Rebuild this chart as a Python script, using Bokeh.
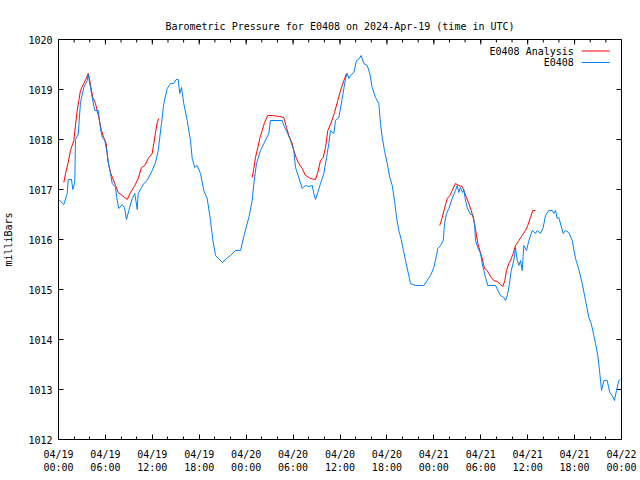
from bokeh.plotting import figure
from bokeh.models import Range1d, FixedTicker, Label
from bokeh.embed import file_html
from bokeh.resources import INLINE

# ---- data (hours since 2024-04-19 00:00 UTC, pressure in mb) ----
obs_hours = [
    0.0, 0.68, 1.11, 1.24, 1.66, 1.83, 2.08, 2.17, 2.52, 2.81,
    3.24, 3.67, 3.80, 4.09, 4.31, 4.64, 5.08, 5.37, 5.59, 5.92,
    6.23, 6.43, 6.65, 6.87, 7.29, 7.51, 7.71, 8.15, 8.44, 8.70,
    8.99, 9.43, 9.76, 10.07, 10.19, 10.62, 10.91, 11.34, 11.98, 12.41,
    12.75, 13.17, 13.47, 13.90, 14.32, 14.75, 15.05, 15.31, 15.51, 15.73,
    16.02, 16.46, 16.88, 17.10, 17.43, 17.74, 18.16, 18.58, 19.02, 19.44,
    19.73, 20.08, 20.46, 20.97, 21.49, 22.0, 22.64, 23.28, 23.79, 24.34,
    24.77, 24.98, 25.32, 25.83, 26.26, 26.90, 27.11, 28.61, 28.81, 29.25,
    29.67, 30.09, 30.31, 30.73, 31.17, 31.59, 32.01, 32.45, 32.65, 32.87,
    33.16, 33.51, 33.93, 34.28, 34.57, 34.79, 35.21, 35.43, 35.85, 36.28,
    36.71, 36.92, 37.13, 37.34, 37.77, 38.11, 38.37, 38.71, 39.05, 39.48,
    39.81, 40.12, 40.54, 40.96, 41.18, 41.40, 41.69, 42.04, 42.37, 42.68,
    42.97, 43.23, 43.52, 43.83, 44.38, 45.02, 45.66, 46.30, 46.72, 47.15,
    47.58, 48.0, 48.34, 48.51, 48.86, 49.20, 49.37, 49.62, 49.92, 50.35,
    50.77, 50.99, 51.19, 51.41, 51.67, 51.83, 52.05, 52.27, 52.60, 53.04,
    53.24, 53.33, 53.63, 53.97, 54.19, 54.39, 54.61, 54.90, 55.89, 56.19,
    56.53, 56.95, 57.17, 57.39, 57.59, 57.90, 58.23, 58.45, 58.67, 58.87,
    59.09, 59.30, 59.51, 59.86, 60.15, 60.59, 61.01, 61.22, 61.64, 61.99,
    62.28, 62.71, 63.14, 63.34, 63.56, 63.78, 63.98, 64.55, 64.84, 65.26,
    65.70, 66.12, 66.54, 66.98, 67.40, 67.82, 68.13, 68.46, 68.68, 68.97,
    69.23, 69.45, 69.74, 70.17, 70.50, 70.81, 71.10, 71.36, 71.66, 71.87,
]
obs_mb = [
    1016.8, 1016.7, 1016.92, 1017.2, 1017.2, 1017.0, 1017.14, 1018.0, 1018.1, 1018.74,
    1019.04, 1019.18, 1019.3, 1019.04, 1018.84, 1018.58, 1018.58, 1018.22, 1018.04, 1017.98,
    1017.72, 1017.48, 1017.32, 1017.12, 1017.04, 1016.78, 1016.62, 1016.7, 1016.64, 1016.4,
    1016.58, 1016.82, 1016.92, 1016.6, 1016.92, 1017.04, 1017.12, 1017.18, 1017.38, 1017.54,
    1017.78, 1018.32, 1018.72, 1019.02, 1019.12, 1019.12, 1019.2, 1019.2, 1018.92, 1019.04,
    1018.72, 1018.38, 1017.98, 1017.62, 1017.44, 1017.48, 1017.32, 1016.98, 1016.82, 1016.38,
    1016.0, 1015.68, 1015.62, 1015.54, 1015.62, 1015.68, 1015.78, 1015.78, 1016.12, 1016.44,
    1016.78, 1017.12, 1017.52, 1017.78, 1017.92, 1018.12, 1018.38, 1018.38, 1018.28, 1018.14,
    1017.98, 1017.78, 1017.44, 1017.24, 1017.02, 1017.08, 1017.06, 1017.08, 1016.92, 1016.8,
    1016.94, 1017.12, 1017.32, 1017.64, 1017.92, 1018.18, 1018.12, 1018.38, 1018.44, 1018.82,
    1019.22, 1019.32, 1019.22, 1019.28, 1019.34, 1019.58, 1019.6, 1019.68, 1019.52, 1019.48,
    1019.32, 1019.04, 1018.84, 1018.72, 1018.32, 1018.04, 1017.78, 1017.52, 1017.24, 1017.08,
    1016.78, 1016.44, 1016.18, 1016.0, 1015.58, 1015.12, 1015.08, 1015.08, 1015.08, 1015.18,
    1015.28, 1015.44, 1015.68, 1015.82, 1015.88, 1015.98, 1016.32, 1016.52, 1016.62, 1016.82,
    1016.98, 1017.08, 1016.94, 1017.04, 1016.94, 1017.0, 1016.78, 1016.64, 1016.52, 1016.48,
    1016.24, 1015.98, 1015.84, 1015.72, 1015.52, 1015.38, 1015.24, 1015.08, 1015.08, 1014.98,
    1014.88, 1014.84, 1014.78, 1014.88, 1015.04, 1015.38, 1015.58, 1015.84, 1015.58, 1015.48,
    1015.58, 1015.38, 1015.88, 1015.78, 1015.98, 1016.18, 1016.12, 1016.18, 1016.12, 1016.24,
    1016.48, 1016.58, 1016.58, 1016.52, 1016.58, 1016.42, 1016.44, 1016.12, 1016.18, 1016.14,
    1015.98, 1015.62, 1015.4, 1015.12, 1014.78, 1014.44, 1014.32, 1014.08, 1013.92, 1013.68,
    1013.32, 1012.98, 1013.18, 1013.18, 1012.94, 1012.88, 1012.78, 1012.98, 1013.18, 1013.2,
]

analysis1_hours = [0.68, 0.90, 1.24, 1.53, 1.75, 1.96, 2.17, 2.39, 2.60, 2.81,
                   3.24, 3.54, 3.80, 3.96, 4.22, 4.39, 4.73, 5.15, 5.50, 5.79,
                   6.10, 6.31, 6.65, 6.94, 7.29, 7.64, 8.15, 8.79, 9.21, 9.76,
                   10.19, 10.62, 11.04, 11.47, 11.98, 12.19, 12.41, 12.62, 12.83]
analysis1_mb = [1017.14, 1017.32, 1017.54, 1017.78, 1017.88, 1017.98, 1018.28, 1018.58, 1018.78, 1018.98,
                1019.12, 1019.22, 1019.32, 1019.22, 1018.98, 1018.84, 1018.72, 1018.44, 1018.18, 1018.04,
                1017.92, 1017.58, 1017.34, 1017.22, 1017.08, 1016.94, 1016.88, 1016.8, 1016.94, 1017.08,
                1017.22, 1017.44, 1017.48, 1017.62, 1017.72, 1017.92, 1018.14, 1018.34, 1018.42]

analysis2_hours = [24.77, 24.98, 25.19, 25.49, 25.74, 26.05, 26.35, 26.77, 27.33, 28.30,
                   28.81, 29.16, 29.45, 29.89, 30.09, 30.44, 30.73, 31.17, 31.59, 32.23,
                   32.87, 33.16, 33.51, 33.85, 34.15, 34.44, 34.88, 35.30, 35.72, 36.07,
                   36.49, 36.83]
analysis2_mb = [1017.24, 1017.42, 1017.64, 1017.84, 1018.02, 1018.18, 1018.34, 1018.48, 1018.48, 1018.46,
                1018.44, 1018.24, 1018.08, 1017.92, 1017.78, 1017.62, 1017.52, 1017.42, 1017.28, 1017.22,
                1017.2, 1017.34, 1017.58, 1017.64, 1017.84, 1018.18, 1018.34, 1018.54, 1018.78, 1018.98,
                1019.18, 1019.32]

analysis3_hours = [48.76, 49.07, 49.37, 49.71, 50.04, 50.35, 50.77, 51.19, 51.63, 51.83,
                   52.18, 52.47, 52.78, 53.20, 53.42, 53.63, 53.88, 54.19, 54.48, 54.83,
                   55.03, 55.34, 55.67, 56.11, 56.53, 56.82, 57.08, 57.29, 57.59, 57.80,
                   58.15, 58.45, 58.87, 59.30, 59.72, 60.01, 60.36, 60.65, 61.0]
analysis3_mb = [1016.28, 1016.44, 1016.62, 1016.82, 1016.88, 1016.98, 1017.12, 1017.08, 1017.06, 1016.98,
                1016.84, 1016.72, 1016.58, 1016.34, 1016.12, 1015.92, 1015.78, 1015.62, 1015.42, 1015.38,
                1015.32, 1015.24, 1015.18, 1015.16, 1015.1, 1015.06, 1015.18, 1015.38, 1015.52, 1015.58,
                1015.72, 1015.88, 1015.98, 1016.08, 1016.18, 1016.28, 1016.44, 1016.58, 1016.58]

x_tick_hours = [0, 6, 12, 18, 24, 30, 36, 42, 48, 54, 60, 66, 72]
x_tick_labels = ["04/19\n00:00", "04/19\n06:00", "04/19\n12:00", "04/19\n18:00",
                 "04/20\n00:00", "04/20\n06:00", "04/20\n12:00", "04/20\n18:00",
                 "04/21\n00:00", "04/21\n06:00", "04/21\n12:00", "04/21\n18:00",
                 "04/22\n00:00"]
x_minor_hours = list(range(0, 73, 2))
y_ticks = [1012, 1013, 1014, 1015, 1016, 1017, 1018, 1019, 1020]

TITLE = "Barometric Pressure for E0408 on 2024-Apr-19 (time in UTC)"
FONT = "DejaVu Sans Mono"
RED = "#ff0000"
BLUE = "#0080ff"

X0, X1, Y0, Y1 = 0, 72, 1012, 1020
FW, FH = 563, 400
MAJ, MIN = 5, 3

p = figure(frame_width=FW, frame_height=FH,
           x_range=Range1d(X0, X1), y_range=Range1d(Y0, Y1),
           output_backend="svg", toolbar_location=None,
           min_border_left=58, min_border_right=19, min_border_top=39, min_border_bottom=41,
           title=TITLE)
p.title.text_font = FONT
p.title.text_font_size = "10px"
p.title.text_font_style = "normal"
p.title.text_color = "black"
p.title.align = "center"
p.title.vertical_align = "middle"
p.title.standoff = 13

p.grid.visible = False
p.outline_line_color = "black"
p.outline_line_alpha = 1.0

def style_axis(ax):
    ax.axis_line_color = "black"
    ax.major_tick_line_color = "black"
    ax.minor_tick_line_color = "black"
    ax.major_tick_in = MAJ
    ax.major_tick_out = 0
    ax.minor_tick_in = MIN
    ax.minor_tick_out = 0
    ax.major_label_text_font = FONT
    ax.major_label_text_font_size = "10px"
    ax.major_label_text_color = "black"

xa = p.xaxis[0]
style_axis(xa)
xa.ticker = FixedTicker(ticks=x_tick_hours, minor_ticks=x_minor_hours)
xa.major_label_overrides = {h: s for h, s in zip(x_tick_hours, x_tick_labels)}
xa.major_label_standoff = 9

ya = p.yaxis[0]
style_axis(ya)
ya.ticker = FixedTicker(ticks=y_ticks, minor_ticks=[])
ya.major_label_standoff = 6
ya.axis_label = "milliBars"
ya.axis_label_text_font = FONT
ya.axis_label_text_font_size = "10px"
ya.axis_label_text_font_style = "normal"
ya.axis_label_text_color = "black"
ya.axis_label_standoff = 11

# mirrored ticks on top and right border (gnuplot style), lengths converted from px
dy_per_px = (Y1 - Y0) / FH
dx_per_px = (X1 - X0) / FW
p.segment(x0=x_tick_hours, y0=[Y1] * len(x_tick_hours), x1=x_tick_hours,
          y1=[Y1 - MAJ * dy_per_px] * len(x_tick_hours), line_color="black", line_width=1)
p.segment(x0=x_minor_hours, y0=[Y1] * len(x_minor_hours), x1=x_minor_hours,
          y1=[Y1 - MIN * dy_per_px] * len(x_minor_hours), line_color="black", line_width=1)
p.segment(x0=[X1] * len(y_ticks), y0=y_ticks, x1=[X1 - MAJ * dx_per_px] * len(y_ticks),
          y1=y_ticks, line_color="black", line_width=1)

# analysis first, observations on top
for hrs, mb in ((analysis1_hours, analysis1_mb), (analysis2_hours, analysis2_mb), (analysis3_hours, analysis3_mb)):
    p.line(hrs, mb, line_color=RED, line_width=1)
p.line(obs_hours, obs_mb, line_color=BLUE, line_width=1)

# gnuplot-style key (text right-aligned, sample line to the right)
key_text_x = 65.9
key_line = [66.9, 70.5]
key_rows = [("E0408 Analysis", RED, 1019.77), ("E0408", BLUE, 1019.54)]
for name, col, ky in key_rows:
    p.add_layout(Label(x=key_text_x, y=ky, text=name, text_align="right", text_baseline="middle",
                       text_font=FONT, text_font_size="10px", text_color="black"))
    p.line(key_line, [ky, ky], line_color=col, line_width=1)

open("out.html", "w").write(file_html(p, INLINE))
